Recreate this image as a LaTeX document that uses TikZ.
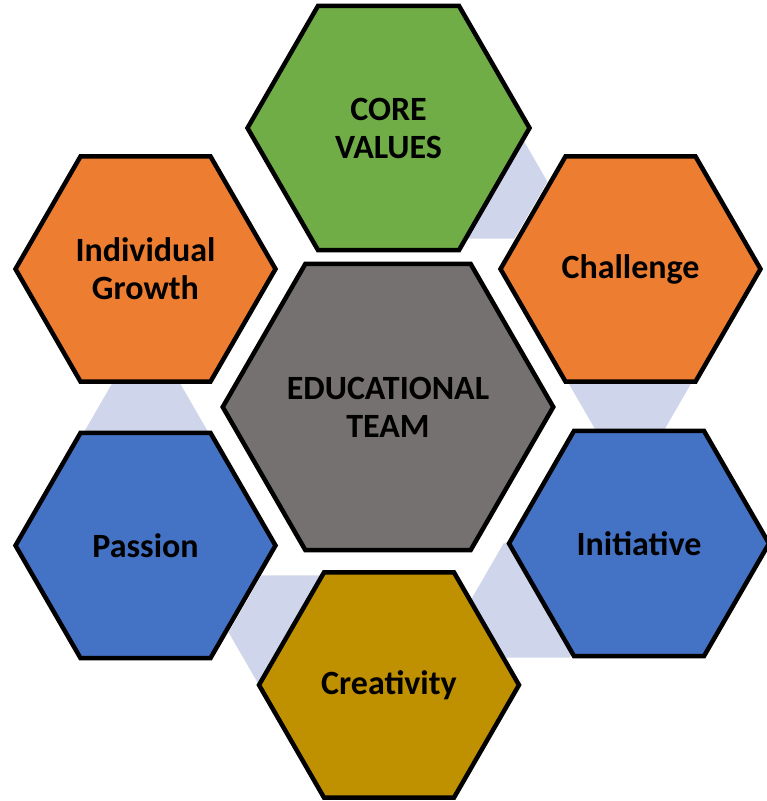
\documentclass[tikz,border=0pt]{standalone}
\usepackage{fontspec}
\setmainfont{Carlito}
\usetikzlibrary{shapes.geometric, calc, backgrounds}
\definecolor{hexgreen}{HTML}{70AD47}
\definecolor{hexorange}{HTML}{ED7D31}
\definecolor{hexblue}{HTML}{4472C4}
\definecolor{hexgold}{HTML}{BF9000}
\definecolor{hexgray}{HTML}{767171}
\definecolor{hexlink}{HTML}{CFD5EA}
\tikzset{
	hexnode/.style={
			regular polygon,
			regular polygon sides=6,
			draw=black,
			line width=4.5pt,
			inner sep=0pt,
			align=center,
			font=\fontsize{34}{38}\selectfont\bfseries,
			minimum size=260pt
		},
	hubnode/.style={
			hexnode,
			fill=hexgray,
			minimum size=316pt
		},
	valuenode/.style={
			hexnode,
			fill=hexgreen,
			minimum size=282pt
		},
	linknode/.style={
			regular polygon,
			regular polygon sides=6,
			draw=none,
			fill=hexlink,
			inner sep=0pt,
			minimum size=132pt
		}
}

\begin{document}
\begin{tikzpicture}[x=1pt, y=-1pt]
\useasboundingbox (0,0) rectangle (767,801);

\node[hubnode] (team) at (388,407) {EDUCATIONAL\\TEAM};
\node[valuenode] (values) at (388.5,128) {CORE\\VALUES};
\node[hexnode, fill=hexorange] (challenge) at (630.5,269) {Challenge};
\node[hexnode, fill=hexblue] (initiative) at (639,543.5) {Initiative};
\node[hexnode, fill=hexgold] (creativity) at (389,685) {Creativity};
\node[hexnode, fill=hexblue] (passion) at (145.5,545.5) {Passion};
\node[hexnode, fill=hexorange] (growth) at (145.5,269) {Individual\\Growth};

% light links between neighbours
\begin{scope}[on background layer]
\foreach \a/\n in {-67.5/a, -7.5/b, 52.5/c, 112.5/d, 172.5/e}
  \node[linknode] (link\n) at ($(team)+(\a:244)$) {};
\end{scope}
\end{tikzpicture}
\end{document}
